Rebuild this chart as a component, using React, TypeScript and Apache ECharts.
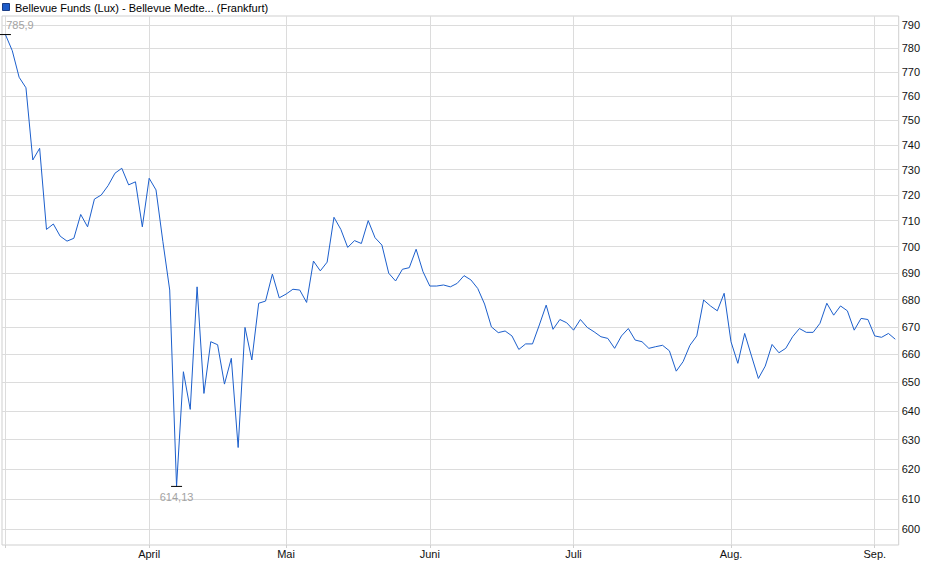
import React, { useEffect, useRef } from "react";
import * as echarts from "echarts";

// Trading days per month (2025)
const marchDays = [3, 4, 5, 6, 7, 10, 11, 12, 13, 14, 17, 18, 19, 20, 21, 24, 25, 26, 27, 28, 31];
const aprilDays = [1, 2, 3, 4, 7, 8, 9, 10, 11, 14, 15, 16, 17, 22, 23, 24, 25, 28, 29, 30];
const mayDays = [2, 5, 6, 7, 8, 9, 12, 13, 14, 15, 16, 19, 20, 21, 22, 23, 26, 27, 28, 29, 30];
const juneDays = [2, 3, 4, 5, 6, 9, 10, 11, 12, 13, 16, 17, 18, 19, 20, 23, 24, 25, 26, 27, 30];
const julyDays = [1, 2, 3, 4, 7, 8, 9, 10, 11, 14, 15, 16, 17, 18, 21, 22, 23, 24, 25, 28, 29, 30, 31];
const augustDays = [1, 4, 5, 6, 7, 8, 11, 12, 13, 14, 15, 18, 19, 20, 21, 22, 25, 26, 27, 28, 29];
const septemberDays = [1, 2, 3, 4];

// Prices per month
const marchValues = [785.9, 779.0, 767.8, 763.4, 733.9, 738.6, 706.6, 708.7, 704.0, 702.1, 703.2, 712.4, 707.6, 718.4, 720.0, 723.7, 728.6, 730.6, 724.0, 725.2, 707.6];
const aprilValues = [726.6, 722.0, 702.0, 683.6, 614.13, 653.8, 640.5, 684.8, 646.1, 664.6, 663.5, 649.4, 658.6, 627.3, 669.8, 658.0, 678.7, 679.5, 689.6, 680.7];
const mayValues = [682.1, 683.9, 683.6, 679.0, 694.5, 690.8, 694.1, 711.3, 706.6, 699.7, 702.3, 701.2, 710.0, 703.4, 700.6, 689.9, 687.0, 691.4, 692.0, 699.0, 690.5];
const juneValues = [685.1, 685.1, 685.5, 684.8, 686.1, 689.0, 687.4, 684.2, 678.4, 670.0, 667.9, 668.5, 666.7, 661.8, 663.8, 663.8, 670.7, 678.0, 669.1, 672.7, 671.5];
const julyValues = [668.8, 672.7, 669.8, 668.2, 666.4, 665.8, 662.2, 666.7, 669.4, 665.2, 664.6, 662.2, 662.8, 663.3, 661.3, 654.0, 657.4, 663.3, 666.7, 679.9, 677.7, 675.9, 682.4];
const augustValues = [664.6, 656.8, 667.6, 659.4, 651.4, 655.8, 663.6, 660.6, 662.2, 666.4, 669.4, 668.0, 668.0, 671.3, 678.7, 674.3, 677.7, 675.9, 668.8, 673.1, 672.7];
const septemberValues = [666.7, 666.2, 667.6, 665.5];

const monthNumbers = ["03", "04", "05", "06", "07", "08", "09"];
const monthTickLabels = ["", "April", "Mai", "Juni", "Juli", "Aug.", "Sep."];
const yTickValues = [600, 610, 620, 630, 640, 650, 660, 670, 680, 690, 700, 710, 720, 730, 740, 750, 760, 770, 780, 790];

const seriesName = "Bellevue Funds (Lux) - Bellevue Medte... (Frankfurt)";

const FONT = 'Arial, "Liberation Sans", sans-serif';

export default function App() {
  const ref = useRef<HTMLDivElement>(null);

  useEffect(() => {
    if (!ref.current) return;
    const chart = echarts.init(ref.current, undefined, { renderer: "svg" });

    const dayLists = [marchDays, aprilDays, mayDays, juneDays, julyDays, augustDays, septemberDays];
    const valueLists = [marchValues, aprilValues, mayValues, juneValues, julyValues, augustValues, septemberValues];

    const categories: string[] = [];
    const values: number[] = [];
    const monthStart: Record<number, string> = {};
    dayLists.forEach((days, m) => {
      monthStart[categories.length] = monthTickLabels[m];
      days.forEach((d, k) => {
        categories.push(`2025-${monthNumbers[m]}-${String(d).padStart(2, "0")}`);
        values.push(valueLists[m][k]);
      });
    });
    const isMonthStart = (idx: number) => Object.prototype.hasOwnProperty.call(monthStart, idx);

    const gridLineColor = "#dcdcdc";

    const hLines = yTickValues.map((v) => ({
      yAxis: v,
      label: {
        show: true,
        position: "end",
        distance: 3,
        formatter: String(v),
        color: "#111",
        fontSize: 11,
        fontFamily: FONT,
      },
    }));
    const vLines = Object.keys(monthStart).map((k) => ({
      xAxis: categories[Number(k)],
      label: { show: false },
    }));

    const fmt = (v: number) => String(v).replace(".", ",");

    chart.setOption({
      animation: false,
      backgroundColor: "#ffffff",
      graphic: [
        {
          type: "rect",
          shape: { x: 2.5, y: 3.5, width: 7, height: 7 },
          style: { fill: "#1d5cc9", stroke: "#1a3d85", lineWidth: 1 },
        },
        {
          type: "text",
          x: 15,
          y: 7.5,
          style: {
            text: seriesName,
            fontSize: 11,
            fontFamily: FONT,
            fill: "#000",
            verticalAlign: "middle",
          },
        },
      ],
      grid: {
        left: 2,
        top: 16,
        width: 896.7,
        height: 529,
        show: true,
        borderColor: "#cfcfcf",
        borderWidth: 1,
        backgroundColor: "transparent",
      },
      xAxis: {
        type: "category",
        data: categories,
        boundaryGap: true,
        axisLine: { show: false },
        axisTick: {
          show: true,
          alignWithLabel: true,
          length: 3,
          interval: (idx: number) => isMonthStart(idx),
          lineStyle: { color: "#cfcfcf" },
        },
        splitLine: { show: false },
        axisLabel: {
          show: true,
          interval: (idx: number) => isMonthStart(idx) && monthStart[idx] !== "",
          formatter: (_v: string, idx: number) => monthStart[idx] || "",
          color: "#111",
          fontSize: 11,
          fontFamily: FONT,
          margin: 3,
        },
      },
      yAxis: {
        type: "log",
        min: 594.8,
        max: 793.9,
        axisLine: { show: false },
        axisTick: { show: false },
        axisLabel: { show: false },
        splitLine: { show: false },
      },
      series: [
        {
          name: seriesName,
          type: "line",
          data: values,
          z: 10,
          showSymbol: false,
          symbol: "none",
          lineStyle: { color: "#1c5fcc", width: 1 },
          itemStyle: { color: "#1c5fcc" },
          markLine: {
            silent: true,
            symbol: "none",
            z: 2,
            animation: false,
            lineStyle: { type: "solid", color: gridLineColor, width: 1 },
            emphasis: { disabled: true },
            data: [...hLines, ...vLines],
          },
          markPoint: {
            silent: true,
            z: 20,
            symbol: "rect",
            symbolSize: [11, 1],
            itemStyle: { color: "#000" },
            animation: false,
            data: [
              {
                type: "max",
                label: {
                  show: true,
                  position: "inside",
                  offset: [14.5, -9.5],
                  formatter: (p: any) => fmt(p.value),
                  color: "#a3a3a3",
                  fontSize: 11,
                  fontFamily: FONT,
                },
              },
              {
                type: "min",
                label: {
                  show: true,
                  position: "inside",
                  offset: [0, 10.5],
                  formatter: (p: any) => fmt(p.value),
                  color: "#a3a3a3",
                  fontSize: 11,
                  fontFamily: FONT,
                },
              },
            ],
          },
        },
      ],
    });

    return () => {
      chart.dispose();
    };
  }, []);

  return (
    <div
      ref={ref}
      style={{ position: "fixed", left: 0, top: 0, width: 940, height: 579, background: "#fff" }}
    />
  );
}
